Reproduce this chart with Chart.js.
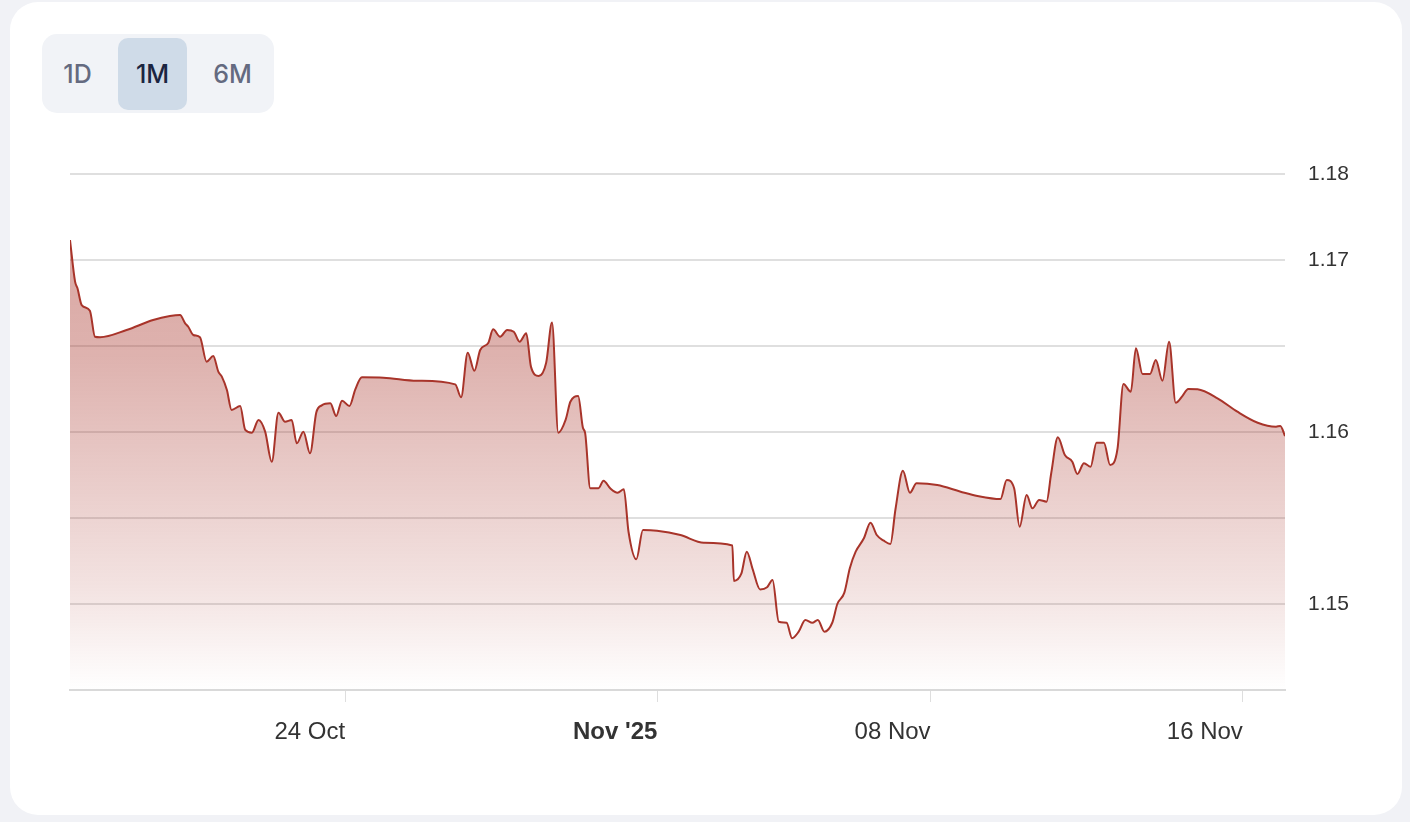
<!DOCTYPE html>
<html>
<head>
<meta charset="utf-8">
<script src="https://cdn.jsdelivr.net/npm/chart.js@4.4.1/dist/chart.umd.min.js"></script>
<style>
  html, body { margin: 0; padding: 0; }
  body { width: 1410px; height: 822px; background: #f1f2f6; position: relative; overflow: hidden; font-family: Inter, "Liberation Sans", sans-serif; }
  .card { position: absolute; left: 10px; top: 2px; width: 1392px; height: 813px; background: #fff; border-radius: 28px; }
  .range { position: absolute; left: 42px; top: 34px; width: 232px; height: 79px; background: #f1f3f7; border-radius: 15px; }
  .range span { position: absolute; top: 4px; height: 72px; width: 69px; line-height: 72px; text-align: center; font-size: 25px; font-weight: 500; color: #646a80; }
  .range .on { background: #cfdbe8; border-radius: 10px; color: #1b2541; }
  #wrap { position: absolute; left: 0; top: 0; width: 1410px; height: 822px; }
</style>
</head>
<body>
<div class="card"></div>
<div class="range">
  <span style="left:1px">1D</span>
  <span class="on" style="left:76px">1M</span>
  <span style="left:156px">6M</span>
</div>
<div id="wrap"><canvas id="priceChart" width="1410" height="822"></canvas></div>
<script>
// days since 17 Oct 2025 00:00
const days = [-0.05, 0.08, 0.14, 0.25, 0.46, 0.59, 0.72, 1.40, 2.08, 2.51, 2.77, 2.90, 2.98, 3.11, 3.28, 3.45, 3.62, 3.75, 3.84, 3.97,
  4.09, 4.31, 4.44, 4.61, 4.78, 4.95, 5.12, 5.29, 5.46, 5.63, 5.76, 5.93, 6.10, 6.26, 6.40, 6.62, 6.77, 6.92, 7.11, 7.26,
  7.43, 7.98, 8.84, 9.82, 9.97, 10.14, 10.31, 10.46, 10.67, 10.79, 10.97, 11.15, 11.32, 11.47, 11.64, 11.76, 11.96, 12.15, 12.30, 12.46,
  12.65, 12.77, 12.97, 13.09, 13.15, 13.28, 13.49, 13.62, 13.79, 13.98, 14.14, 14.26, 14.46, 14.63, 14.99, 15.59, 16.19, 16.92, 16.96, 17.15,
  17.29, 17.44, 17.63, 17.81, 17.95, 18.11, 18.31, 18.45, 18.62, 18.79, 18.97, 19.11, 19.28, 19.48, 19.61, 19.79, 19.93, 20.08, 20.29, 20.46,
  20.62, 20.80, 20.97, 21.10, 21.29, 21.47, 21.64, 22.17, 22.77, 23.20, 23.79, 23.95, 24.14, 24.28, 24.46, 24.61, 24.78, 24.97, 25.09, 25.26,
  25.44, 25.63, 25.76, 25.93, 26.10, 26.25, 26.44, 26.60, 26.79, 26.94, 27.13, 27.26, 27.43, 27.62, 27.77, 27.94, 28.11, 28.28, 28.45, 28.60,
  28.84, 29.35, 29.86, 30.38, 30.85, 30.96, 31.08];

const prices = [1.17116, 1.16874, 1.16837, 1.16738, 1.16705, 1.16554, 1.16551, 1.16593, 1.16651, 1.16674, 1.16680, 1.16632, 1.16612, 1.16564, 1.16551, 1.16409, 1.16442, 1.16351, 1.16322, 1.16244,
  1.16128, 1.16151, 1.16012, 1.15996, 1.16070, 1.16002, 1.15827, 1.16112, 1.16060, 1.16070, 1.15934, 1.16002, 1.15876, 1.16113, 1.16155, 1.16167, 1.16093, 1.16182, 1.16151, 1.16248,
  1.16318, 1.16316, 1.16298, 1.16277, 1.16202, 1.16461, 1.16356, 1.16477, 1.16519, 1.16597, 1.16554, 1.16593, 1.16583, 1.16525, 1.16574, 1.16380, 1.16326, 1.16403, 1.16637, 1.15996,
  1.16072, 1.16176, 1.16209, 1.16026, 1.15992, 1.15673, 1.15673, 1.15717, 1.15673, 1.15647, 1.15667, 1.15420, 1.15260, 1.15430, 1.15426, 1.15401, 1.15356, 1.15340, 1.15134, 1.15176,
  1.15304, 1.15203, 1.15085, 1.15097, 1.15140, 1.14897, 1.14891, 1.14801, 1.14839, 1.14907, 1.14891, 1.14907, 1.14839, 1.14891, 1.15000, 1.15066, 1.15208, 1.15304, 1.15382, 1.15473,
  1.15401, 1.15368, 1.15349, 1.15551, 1.15775, 1.15647, 1.15702, 1.15692, 1.15653, 1.15628, 1.15610, 1.15721, 1.15673, 1.15449, 1.15634, 1.15556, 1.15605, 1.15595, 1.15760, 1.15969,
  1.15866, 1.15827, 1.15756, 1.15818, 1.15798, 1.15938, 1.15938, 1.15808, 1.15905, 1.16279, 1.16234, 1.16487, 1.16337, 1.16337, 1.16419, 1.16298, 1.16525, 1.16170, 1.16209, 1.16250,
  1.16248, 1.16196, 1.16118, 1.16054, 1.16031, 1.16035, 1.15977];

const xTickDays = [7, 15, 22, 30];
const xTickLabels = ['24 Oct', "Nov '25", '08 Nov', '16 Nov'];
const yTickValues = [1.145, 1.15, 1.155, 1.16, 1.165, 1.17, 1.175];
const yTickLabels = ['', '1.15', '', '1.16', '', '1.17', '1.18'];

const ctx = document.getElementById('priceChart');

new Chart(ctx, {
  type: 'line',
  data: {
    datasets: [{
      data: days.map((d, i) => ({ x: d, y: prices[i] })),
      borderColor: '#a8342a',
      borderWidth: 2,
      pointRadius: 0,
      cubicInterpolationMode: 'monotone',
      fill: 'start',
      backgroundColor: (c) => {
        const area = c.chart.chartArea;
        if (!area) return 'rgba(168,52,42,0.3)';
        const g = c.chart.ctx.createLinearGradient(0, area.top, 0, area.bottom);
        g.addColorStop(0, 'rgba(168,52,42,0.46)');
        g.addColorStop(0.35, 'rgba(168,52,42,0.38)');
        g.addColorStop(0.8, 'rgba(168,52,42,0.14)');
        g.addColorStop(1, 'rgba(168,52,42,0)');
        return g;
      }
    }]
  },
  options: {
    responsive: false,
    animation: false,
    layout: { padding: { left: 70, top: 174, right: 0, bottom: 0 } },
    plugins: { legend: { display: false }, tooltip: { enabled: false } },
    scales: {
      x: {
        type: 'linear',
        min: days[0],
        max: days[days.length - 1],
        afterBuildTicks: (s) => { s.ticks = xTickDays.map(v => ({ value: v })); },
        afterFit: (s) => { s.height = 132; },
        grid: { drawOnChartArea: false, drawTicks: true, tickLength: 12, color: '#dedede', lineWidth: 1 },
        border: { color: '#d9d9d9', width: 2 },
        ticks: {
          align: 'end',
          padding: 16,
          maxRotation: 0,
          color: '#333',
          font: (c) => ({ family: '"Liberation Sans", Arial, sans-serif', size: 24, weight: c.tick && c.tick.value === 15 ? 'bold' : 'normal' }),
          callback: (v) => xTickLabels[xTickDays.indexOf(v)]
        }
      },
      y: {
        position: 'right',
        min: 1.145,
        max: 1.175,
        afterBuildTicks: (s) => { s.ticks = yTickValues.map(v => ({ value: v })); },
        afterFit: (s) => { s.width = 125; },
        grid: { drawTicks: false, color: '#dfdfdf', lineWidth: 2 },
        border: { display: false },
        ticks: {
          padding: 23,
          color: '#333',
          font: { family: '"Liberation Sans", Arial, sans-serif', size: 21 },
          callback: (v) => yTickLabels[yTickValues.indexOf(v)]
        }
      }
    }
  }
});
</script>
</body>
</html>
